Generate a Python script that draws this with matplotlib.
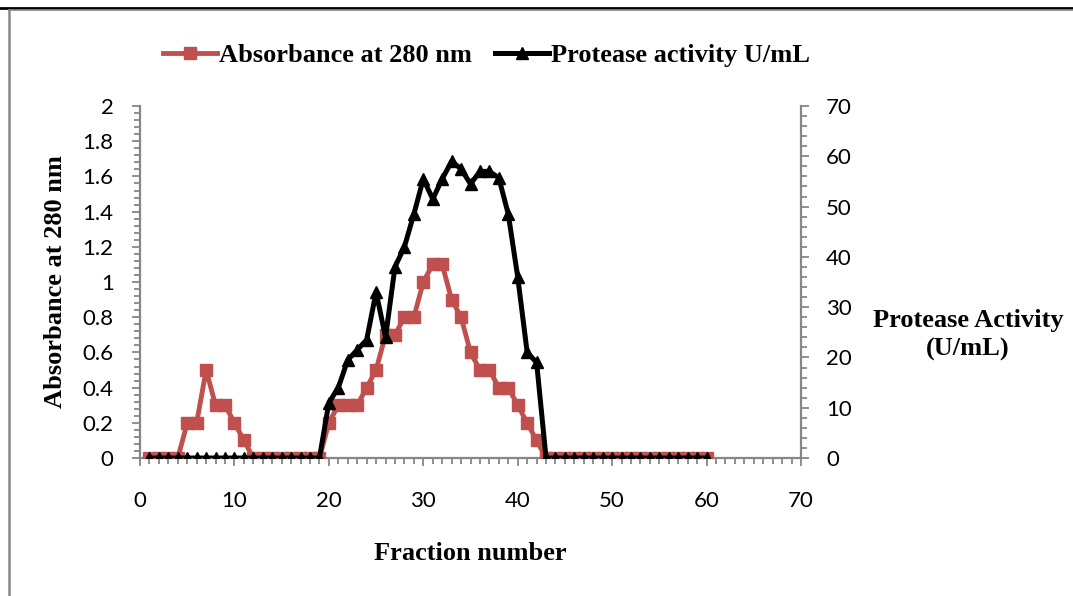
"""Fraction profile: absorbance at 280 nm and protease activity."""

import matplotlib
matplotlib.use('Agg')
import matplotlib.pyplot as plt
from matplotlib.lines import Line2D
from matplotlib.ticker import MultipleLocator


# ----------------------------------------------------------------------------
# Data

fractions = list(range(1, 61))

absorbance = (
    [0, 0, 0, 0, 0.2, 0.2, 0.5, 0.3, 0.3, 0.2, 0.1]
    + [0]*8
    + [0.2, 0.3, 0.3, 0.3, 0.4, 0.5, 0.7, 0.7, 0.8, 0.8, 1.0, 1.1, 1.1,
       0.9, 0.8, 0.6, 0.5, 0.5, 0.4, 0.4, 0.3, 0.2, 0.1]
    + [0]*18
    )

activity = (
    [0]*19
    + [11, 14, 19.5, 21.5, 23.5, 33, 24, 38, 42, 48.5, 55.5, 51.5, 55.5,
       59, 57.5, 54.5, 57, 57, 55.7, 48.5, 36, 21, 19]
    + [0]*18
    )

x_ticks = [0, 10, 20, 30, 40, 50, 60, 70]
abs_ticks = [0, 0.2, 0.4, 0.6, 0.8, 1, 1.2, 1.4, 1.6, 1.8, 2]
abs_labels = ['0', '0.2', '0.4', '0.6', '0.8', '1', '1.2', '1.4', '1.6',
              '1.8', '2']
act_ticks = [0, 10, 20, 30, 40, 50, 60, 70]


# ----------------------------------------------------------------------------
# Style

RED = '#C0504D'
GREY = '#868686'
TICK_FONT = 'Lato'
LABEL_FONT = dict(family='Liberation Serif', weight='bold', size=19)


def _style_axis(ax):
    for side in ('top', 'left', 'right', 'bottom'):
        ax.spines[side].set_visible(False)
    ax.tick_params(which='both', color=GREY, width=1.3, labelsize=16)
    ax.tick_params(which='major', length=6)
    ax.tick_params(which='minor', length=4.5)


# ----------------------------------------------------------------------------
# Figure

fig = plt.figure(figsize=(10.73, 5.96), dpi=100)
ax = fig.add_axes([0.1305, 0.2315, 0.616, 0.5906])
ax2 = ax.twinx()

ax.plot(fractions, absorbance, color=RED, lw=3.5, marker='s',
        markersize=8.5, zorder=3)
ax2.plot(fractions, activity, color='black', lw=3.6, marker='^',
         markersize=8, zorder=4)

ax.set_xlim(0, 70)
ax.set_ylim(0, 2)
ax2.set_ylim(0, 70)

_style_axis(ax)
_style_axis(ax2)
for side in ('left', 'bottom'):
    ax.spines[side].set_visible(True)
    ax.spines[side].set_color(GREY)
    ax.spines[side].set_linewidth(1.6)
ax2.spines['right'].set_visible(True)
ax2.spines['right'].set_color(GREY)
ax2.spines['right'].set_linewidth(1.6)

ax.set_xticks(x_ticks)
ax.xaxis.set_minor_locator(MultipleLocator(1))
ax.set_yticks(abs_ticks)
ax.set_yticklabels(abs_labels)
ax.yaxis.set_minor_locator(MultipleLocator(0.04))
ax2.set_yticks(act_ticks)
ax2.yaxis.set_minor_locator(MultipleLocator(2))

ax.tick_params(axis='x', which='major', pad=18)
ax.tick_params(axis='y', which='major', pad=13)
ax2.tick_params(axis='y', which='major', pad=12)
for lbl in ax.get_xticklabels() + ax.get_yticklabels() + ax2.get_yticklabels():
    lbl.set_fontfamily(TICK_FONT)

ax.set_xlabel('Fraction number', labelpad=22, **LABEL_FONT)
ax.set_ylabel('Absorbance at 280 nm', labelpad=11, **LABEL_FONT)
fig.text(0.902, 0.438, 'Protease Activity\n(U/mL)', ha='center',
         va='center', linespacing=1.35, **LABEL_FONT)

# Legend -----------------------------------------------------------------
handles = [
    Line2D([], [], color=RED, lw=3.5, marker='s', markersize=8.5),
    Line2D([], [], color='black', lw=3.6, marker='^', markersize=8),
    ]
fig.legend(handles, ['Absorbance at 280 nm', 'Protease activity U/mL'],
           loc='center', bbox_to_anchor=(0.4534, 0.9077), ncol=2,
           frameon=False, handlelength=2.05, handletextpad=0.05,
           columnspacing=0.9, prop=dict(family='Liberation Serif',
                                        weight='bold', size=19))

# Page border lines ------------------------------------------------------
fig.add_artist(Line2D([0, 1], [1 - 7.5/596]*2, color='black', lw=2,
                      transform=fig.transFigure))
fig.add_artist(Line2D([8.5/1073, 1], [1 - 10/596]*2, color=GREY, lw=1.2,
                      transform=fig.transFigure))
fig.add_artist(Line2D([9/1073]*2, [0, 1 - 10/596], color=GREY, lw=1.8,
                      transform=fig.transFigure))

fig.savefig('out.png', dpi=100)
